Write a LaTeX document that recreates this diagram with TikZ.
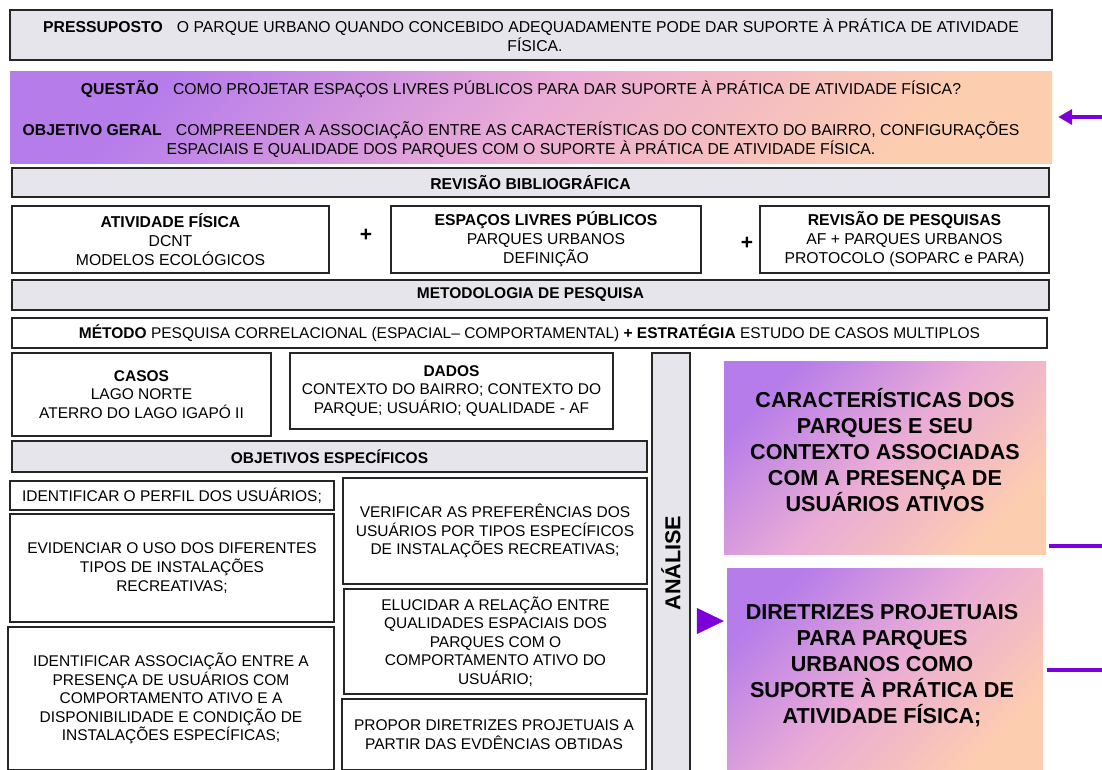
\documentclass[tikz,border=0pt]{standalone}
\usepackage{fontspec}
\setmainfont{Liberation Sans}
\usetikzlibrary{arrows.meta}
\definecolor{boxgray}{RGB}{230,229,235}
\definecolor{pur}{RGB}{123,0,218}
\definecolor{gA}{RGB}{182,124,234}
\definecolor{gB}{RGB}{234,172,214}
\definecolor{gC}{RGB}{253,205,175}
\begin{document}
\begin{tikzpicture}[x=1pt,y=-1pt,
  every node/.style={font=\fontsize{15.5}{18.6}\selectfont, inner sep=0pt, align=center},
  sz/.style 2 args={minimum width=#1pt, minimum height=#2pt},
  gbox/.style={draw=black!85, line width=1.2pt, fill=boxgray},
  wbox/.style={draw=black!85, line width=1.2pt, fill=white},
  grad/.style={left color=gA, right color=gC, middle color=gB, shading angle=45},
  top/.style={font=\fontsize{15.75}{19}\selectfont},
  big/.style={font=\fontsize{21.6}{26}\selectfont\bfseries},
  plus/.style={font=\fontsize{21}{22}\selectfont\bfseries},
  parrow/.style={draw=pur, line width=3.5pt, -{Triangle[length=14pt,width=15pt]}},
  ptri/.style={draw=pur, fill=pur, line width=0.5pt, -{Triangle[length=27pt,width=26pt]}},
  pline/.style={draw=pur, line width=4pt},
  ]
\useasboundingbox (0,0) rectangle (1102,769);
\fill[white] (0,0) rectangle (1102,769);
\clip (0,0) rectangle (1102,769);

\node[gbox, top, sz={1042}{50}] (pres) at (531,35) {\textbf{PRESSUPOSTO}\hspace{0.9em}O PARQUE URBANO QUANDO CONCEBIDO ADEQUADAMENTE PODE DAR SUPORTE À PRÁTICA DE ATIVIDADE\\\hspace*{8pt}FÍSICA.};

\node[grad, sz={1042}{92}] (quest) at (531,117) {};
\node[top] (qtxt) at (521,89) {\textbf{QUESTÃO}\hspace{0.9em}COMO PROJETAR ESPAÇOS LIVRES PÚBLICOS PARA DAR SUPORTE À PRÁTICA DE ATIVIDADE FÍSICA?};
\node[top] (otxt) at (521,139.5) {\textbf{OBJETIVO GERAL}\hspace{0.9em}COMPREENDER A ASSOCIAÇÃO ENTRE AS CARACTERÍSTICAS DO CONTEXTO DO BAIRRO, CONFIGURAÇÕES\\ESPACIAIS E QUALIDADE DOS PARQUES COM O SUPORTE À PRÁTICA DE ATIVIDADE FÍSICA.};
\coordinate (qa) at (1102,117);
\draw[parrow, shorten >=6pt] (qa) -- (quest.east);

\node[gbox, top, sz={1037}{29}] (rev) at (530.5,182.5) {\textbf{REVISÃO BIBLIOGRÁFICA}};
\node[wbox, top, sz={317}{67}] (af) at (170.5,239.5) {\textbf{ATIVIDADE FÍSICA}\\DCNT\\MODELOS ECOLÓGICOS};
\node[wbox, top, sz={310}{67}] (elp) at (546,239.5) {\textbf{ESPAÇOS LIVRES PÚBLICOS}\\PARQUES URBANOS\\DEFINIÇÃO};
\node[wbox, top, sz={289}{67}] (rp) at (904.5,239.5) {\textbf{REVISÃO DE PESQUISAS}\\AF + PARQUES URBANOS\\PROTOCOLO (SOPARC e PARA)};
\node[plus] (p1) at (366,235) {+};
\node[plus] (p2) at (747,243) {+};

\node[gbox, sz={1037}{30}] (met) at (530.5,295) {\textbf{METODOLOGIA DE PESQUISA}};
\node[wbox, sz={1035}{30}] (mtd) at (529.5,333) {\textbf{MÉTODO} PESQUISA CORRELACIONAL (ESPACIAL– COMPORTAMENTAL) \textbf{+ ESTRATÉGIA} ESTUDO DE CASOS MULTIPLOS};

\node[wbox, sz={259}{83}] (casos) at (141.5,394.5) {\textbf{CASOS}\\LAGO NORTE\\ATERRO DO LAGO IGAPÓ II};
\node[wbox, sz={323}{76}] (dados) at (451.5,391) {\textbf{DADOS}\\CONTEXTO DO BAIRRO; CONTEXTO DO\\PARQUE; USUÁRIO; QUALIDADE - AF};

\node[gbox, sz={635}{31}] (oe) at (329.5,456.5) {\textbf{OBJETIVOS ESPECÍFICOS}};

\node[wbox, sz={324}{29}] (o1) at (172,495.5) {IDENTIFICAR O PERFIL DOS USUÁRIOS;};
\node[wbox, sz={324}{108}] (o2) at (172,568) {EVIDENCIAR O USO DOS DIFERENTES\\TIPOS DE INSTALAÇÕES\\RECREATIVAS;};
\node[wbox, sz={326}{143}] (o3) at (171,698.5) {IDENTIFICAR ASSOCIAÇÃO ENTRE A\\PRESENÇA DE USUÁRIOS COM\\COMPORTAMENTO ATIVO E A\\DISPONIBILIDADE E CONDIÇÃO DE\\INSTALAÇÕES ESPECÍFICAS;};
\node[wbox, sz={304}{106}] (o4) at (495,531) {VERIFICAR AS PREFERÊNCIAS DOS\\USUÁRIOS POR TIPOS ESPECÍFICOS\\DE INSTALAÇÕES RECREATIVAS;};
\node[wbox, sz={303}{105}] (o5) at (495.5,641.5) {ELUCIDAR A RELAÇÃO ENTRE\\QUALIDADES ESPACIAIS DOS\\PARQUES COM O\\COMPORTAMENTO ATIVO DO\\USUÁRIO;};
\node[wbox, sz={304}{71}] (o6) at (494,734.5) {PROPOR DIRETRIZES PROJETUAIS A\\PARTIR DAS EVDÊNCIAS OBTIDAS};

\node[gbox, big, rotate=90, sz={420}{38}] (ana) at (671,563) {ANÁLISE};

\node[grad, sz={322}{193}] (car) at (885,457.5) {};
\node[big] (cart) at (885,450) {CARACTERÍSTICAS DOS\\PARQUES E SEU\\CONTEXTO ASSOCIADAS\\COM A PRESENÇA DE\\USUÁRIOS ATIVOS};
\node[grad, sz={316}{207}] (dir) at (885,671.5) {};
\node[big] (dirt) at (882,666) {DIRETRIZES PROJETUAIS\\PARA PARQUES\\URBANOS COMO\\SUPORTE À PRÁTICA DE\\ATIVIDADE FÍSICA;};

\coordinate (ts) at (697,621);
\draw[ptri, shorten >=3pt] (ts) -- (dir.west |- ts);

\coordinate (l1) at (1102,546);
\draw[pline, shorten <=3pt] (car.east |- l1) -- (l1);
\coordinate (l2) at (1102,670);
\draw[pline, shorten <=4pt] (dir.east |- l2) -- (l2);
\end{tikzpicture}
\end{document}
